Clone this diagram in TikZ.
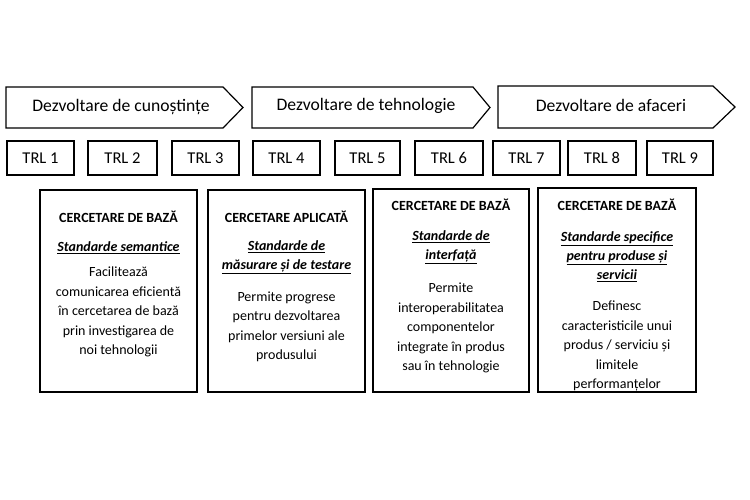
\documentclass[tikz,border=0pt]{standalone}
\usepackage{fontspec}
\setmainfont{Carlito}
\begin{document}
\begin{tikzpicture}[x=1pt,y=-1pt,
  phase/.style={draw=black,line width=1.2pt,line join=miter},
  phasetext/.style={font=\fontsize{17.6}{20}\selectfont,inner sep=0pt},
  trl/.style={draw=black,line width=1.2pt,minimum width=67pt,minimum height=34pt,inner sep=0pt,font=\fontsize{16.5}{20}\selectfont},
  card/.style={draw=black,line width=1.6pt,inner sep=0pt},
  head/.style={font=\fontsize{14}{19.5}\selectfont\bfseries,inner sep=0pt},
  sub/.style={font=\fontsize{14}{19}\selectfont\bfseries\itshape,align=center,inner sep=0pt},
  body/.style={font=\fontsize{14}{19.5}\selectfont,align=center,inner sep=0pt}]
\useasboundingbox (0,0) rectangle (750,500);
% phase arrows
\draw[phase] (6,87) -- (223,87) -- (243,107.5) -- (223,128) -- (6,128) -- cycle;
\draw[phase] (252,87) -- (473,87) -- (490,107.5) -- (473,128) -- (252,128) -- cycle;
\draw[phase] (498,86) -- (713,86) -- (735,107) -- (713,128) -- (498,128) -- cycle;
\node[phasetext] (p1) at (121,107) {Dezvoltare de cunoștințe};
\node[phasetext] (p2) at (366,106) {Dezvoltare de tehnologie};
\node[phasetext] (p3) at (611,105) {Dezvoltare de afaceri};
% TRL boxes
\node[trl,minimum width=67pt] (t1) at (40.5,158) {TRL 1};
\node[trl,minimum width=69pt] (t2) at (122.5,158) {TRL 2};
\node[trl,minimum width=67pt] (t3) at (205.5,158) {TRL 3};
\node[trl,minimum width=67pt] (t4) at (286.5,158) {TRL 4};
\node[trl,minimum width=65pt] (t5) at (367.5,158) {TRL 5};
\node[trl,minimum width=68pt] (t6) at (449,158) {TRL 6};
\node[trl,minimum width=67pt] (t7) at (526.5,158) {TRL 7};
\node[trl,minimum width=68pt] (t8) at (602,158) {TRL 8};
\node[trl,minimum width=66pt] (t9) at (680,158) {TRL 9};
% cards
\node[card,minimum width=157pt,minimum height=202pt] (c1) at (118.5,291) {};
\node[card,minimum width=157pt,minimum height=202pt] (c2) at (286.5,291) {};
\node[card,minimum width=156pt,minimum height=203pt] (c3) at (451,290.5) {};
\node[card,minimum width=158pt,minimum height=204pt] (c4) at (617,290) {};
% card 1
\node[head] (h1) at (118.5,217) {CERCETARE DE BAZĂ};
\node[sub] (s1) at (118.5,248) {\underline{Standarde semantice}};
\node[body] (b1) at (118.5,312) {Facilitează\\comunicarea eficientă\\în cercetarea de bază\\prin investigarea de\\noi tehnologii};
% card 2
\node[head] (h2) at (286.5,217) {CERCETARE APLICATĂ};
\node[sub] (s2) at (286.5,257.5) {\underline{Standarde de}\\\underline{măsurare și de testare}};
\node[body] (b2) at (286.5,327) {Permite progrese\\pentru dezvoltarea\\primelor versiuni ale\\produsului};
% card 3
\node[head] (h3) at (451,205) {CERCETARE DE BAZĂ};
\node[sub] (s3) at (451,247.5) {\underline{Standarde de}\\\underline{interfață}};
\node[body] (b3) at (451,328) {Permite\\interoperabilitatea\\componentelor\\integrate în produs\\sau în tehnologie};
% card 4
\node[head] (h4) at (617,205) {CERCETARE DE BAZĂ};
\node[sub] (s4) at (617,256.5) {\underline{Standarde specifice}\\\underline{pentru produse și}\\\underline{servicii}};
\node[body] (b4) at (617,346) {Definesc\\caracteristicile unui\\produs / serviciu și\\limitele\\performanțelor};
\end{tikzpicture}
\end{document}
